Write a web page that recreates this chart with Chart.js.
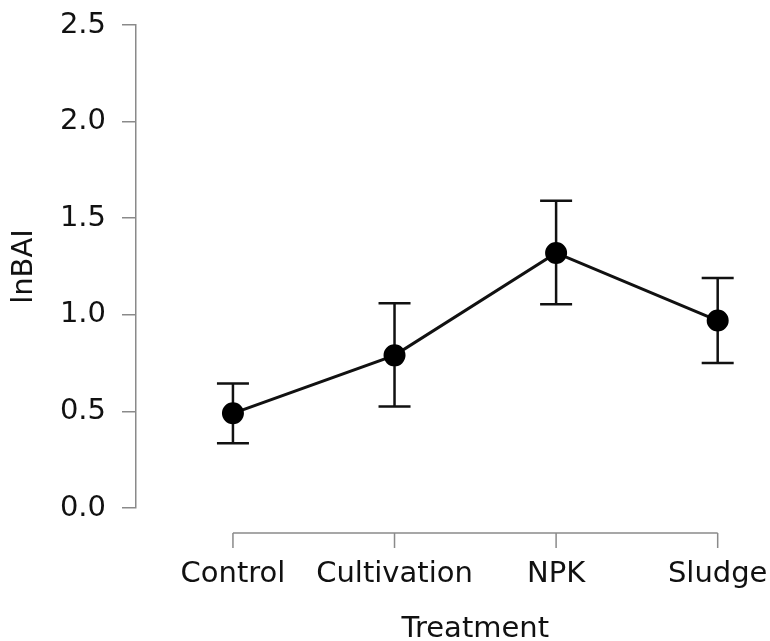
<!DOCTYPE html>
<html>
<head>
<meta charset="utf-8">
<script src="https://cdn.jsdelivr.net/npm/chart.js@4"></script>
<style>
  html, body { margin: 0; padding: 0; background: #fff; }
  #wrap { width: 770px; height: 641px; }
</style>
</head>
<body>
<div id="wrap"><canvas id="chart"></canvas></div>
<script>
// data
const categories = ['Control', 'Cultivation', 'NPK', 'Sludge'];
const means = [0.49, 0.79, 1.32, 0.97];
const lower = [0.335, 0.525, 1.055, 0.75];
const upper = [0.645, 1.06, 1.59, 1.19];
const yTicks = [0, 0.5, 1.0, 1.5, 2.0, 2.5];
const xTitle = 'Treatment';

const axisGrey = '#8a8a8a';
const font = { family: 'DejaVu Sans', size: 29 };

// error bars under the points
const errorBars = {
    id: 'errorBars',
    beforeDatasetsDraw(chart) {
        const { ctx, scales: { x, y } } = chart;
        ctx.save();
        ctx.strokeStyle = '#111';
        ctx.lineWidth = 2.5;
        means.forEach((m, i) => {
            const px = x.getPixelForValue(i);
            const lo = y.getPixelForValue(lower[i]);
            const hi = y.getPixelForValue(upper[i]);
            ctx.beginPath();
            ctx.moveTo(px, lo); ctx.lineTo(px, hi);
            ctx.moveTo(px - 16, lo); ctx.lineTo(px + 16, lo);
            ctx.moveTo(px - 16, hi); ctx.lineTo(px + 16, hi);
            ctx.stroke();
        });
        ctx.restore();
    }
};

// detached x axis running only between the first and last category,
// with its title centred on that line
const xAxisLine = {
    id: 'xAxisLine',
    afterDraw(chart) {
        const { ctx, chartArea, scales: { x } } = chart;
        const yy = chartArea.bottom + 25;
        const x0 = x.getPixelForValue(0);
        const x1 = x.getPixelForValue(categories.length - 1);
        ctx.save();
        ctx.strokeStyle = axisGrey;
        ctx.lineWidth = 1.5;
        ctx.beginPath();
        ctx.moveTo(x0, yy); ctx.lineTo(x1, yy);
        categories.forEach((c, i) => {
            const px = x.getPixelForValue(i);
            ctx.moveTo(px, yy); ctx.lineTo(px, yy + 15);
        });
        ctx.stroke();
        ctx.fillStyle = '#111';
        ctx.font = `${font.size}px "${font.family}"`;
        ctx.textAlign = 'center';
        ctx.textBaseline = 'middle';
        ctx.fillText(xTitle, (x0 + x1) / 2, chartArea.bottom + 121);
        ctx.restore();
    }
};

new Chart(document.getElementById('chart'), {
    type: 'line',
    data: {
        datasets: [{
            data: means.map((m, i) => ({ x: i, y: m })),
            borderColor: '#111',
            borderWidth: 3,
            backgroundColor: '#000',
            pointBackgroundColor: '#000',
            pointBorderColor: '#000',
            pointRadius: 9.5,
            tension: 0
        }]
    },
    options: {
        responsive: true,
        maintainAspectRatio: false,
        animation: false,
        layout: { padding: { top: 25, right: 20, left: 0, bottom: 0 } },
        plugins: { legend: { display: false }, tooltip: { enabled: false } },
        scales: {
            x: {
                type: 'linear',
                min: -0.6,
                max: 3.2,
                afterBuildTicks: s => { s.ticks = categories.map((c, i) => ({ value: i })); },
                afterFit: s => { s.height = 133; s.paddingLeft = 0; s.paddingRight = 0; },
                ticks: {
                    callback: v => categories[v],
                    color: '#111',
                    font: { ...font, lineHeight: 1.1 },
                    padding: 51,
                    maxRotation: 0,
                    autoSkip: false
                },
                grid: { display: false, drawTicks: false },
                border: { display: false }
            },
            y: {
                min: 0,
                max: 2.5,
                afterBuildTicks: s => { s.ticks = yTicks.map(v => ({ value: v })); },
                afterFit: s => { s.width = 136; s.paddingTop = 0; s.paddingBottom = 0; },
                ticks: {
                    callback: v => v.toFixed(1),
                    color: '#111',
                    font: font,
                    padding: 16
                },
                grid: { display: true, drawOnChartArea: false, tickLength: 14, color: axisGrey, lineWidth: 1.5 },
                border: { display: true, color: axisGrey, width: 1.5 },
                title: {
                    display: true,
                    text: 'lnBAI',
                    color: '#111',
                    font: { ...font, lineHeight: 1.0 },
                    padding: { top: 10, bottom: 0 }
                }
            }
        }
    },
    plugins: [errorBars, xAxisLine]
});
</script>
</body>
</html>
